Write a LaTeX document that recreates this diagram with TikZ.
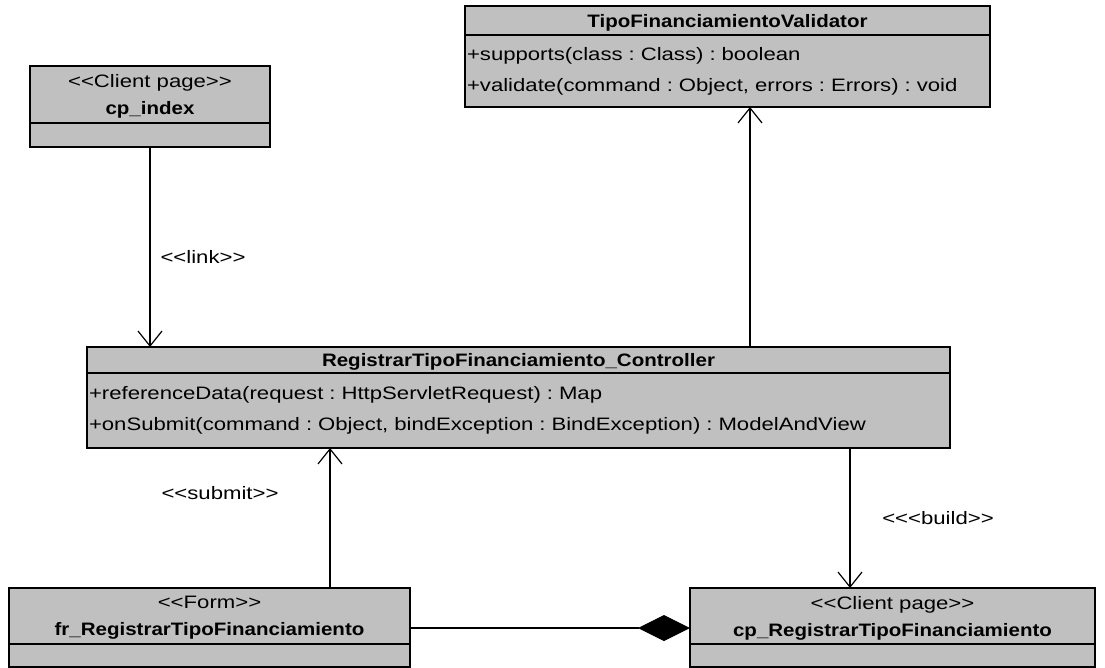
\documentclass[tikz,border=0pt]{standalone}
\usepackage{fontspec}
\setmainfont{Liberation Sans}[Ligatures=TeXOff, FakeStretch=1.23, BoldFeatures={FakeStretch=1.14}]
\frenchspacing
\usetikzlibrary{arrows.meta, positioning, calc}
\definecolor{umlgray}{HTML}{C0C0C0}
\newcommand{\stereo}[1]{\textless\textless #1\textgreater\textgreater}
\tikzset{
	classbox/.style={draw, fill=umlgray, line width=1.3pt, outer sep=0pt, inner sep=0pt, text depth=0pt, anchor=north west, align=center, font=\fontsize{18}{27}\selectfont},
	opsbox/.style={draw, fill=umlgray, line width=1.3pt, outer sep=0pt, inner xsep=2pt, inner ysep=0pt, anchor=north, align=left, font=\fontsize{18}{31}\selectfont},
	dep/.style={draw, line width=1.2pt, -{Straight Barb[length=15pt, width=24pt, line width=1.2pt]}},
	comp/.style={draw, line width=1.2pt, -{Diamond[length=52pt, width=26pt, fill=black]}},
	stlabel/.style={font=\fontsize{18}{18}\selectfont}
}

\begin{document}
\begin{tikzpicture}[x=1pt, y=-1pt]
				  \useasboundingbox (0,0) rectangle (1105,668);
				  \node[classbox, minimum width=240pt, minimum height=57pt] (index) at (30,66) {\stereo{Client page}\\\textbf{cp\_index}};
				  \node[opsbox, minimum width=240pt, minimum height=24pt, below=0pt of index] (index-ops) {};
				  \node[classbox, minimum width=525pt, minimum height=29pt] (val) at (465,6) {\textbf{TipoFinanciamientoValidator}};
				  \node[opsbox, text width=521pt, minimum height=72pt, below=0pt of val] (val-ops) {+supports(class : Class) : boolean\\+validate(command : Object, errors : Errors) : void};
				  \node[classbox, minimum width=863pt, minimum height=26pt] (ctrl) at (87,347) {\textbf{RegistrarTipoFinanciamiento\_Controller}};
				  \node[opsbox, text width=859pt, minimum height=75pt, below=0pt of ctrl] (ctrl-ops) {+referenceData(request : HttpServletRequest) : Map\\+onSubmit(command : Object, bindException : BindException) : ModelAndView};
				  \node[classbox, minimum width=401pt, minimum height=56pt] (form) at (9,588) {\stereo{Form}\\\textbf{fr\_RegistrarTipoFinanciamiento}};
				  \node[opsbox, minimum width=401pt, minimum height=23pt, below=0pt of form] (form-ops) {};
				  \node[classbox, minimum width=405pt, minimum height=56pt] (page) at (690,588) {\stereo{Client page}\\\textbf{cp\_RegistrarTipoFinanciamiento}};
				  \node[opsbox, minimum width=405pt, minimum height=23pt, below=0pt of page] (page-ops) {};
				  \coordinate (valfoot) at ($(val-ops.south west)+(285,0)$);
				  \coordinate (ctrlfoot) at ($(ctrl-ops.south west)+(763,0)$);
				  \coordinate (formtop) at ($(form.north west)+(321,0)$);
				  \draw[dep] (index-ops.south) -- (index-ops.south |- ctrl.north);
				  \draw[dep] (valfoot |- ctrl.north) -- (valfoot);
				  \draw[dep] (formtop) -- (formtop |- ctrl-ops.south);
				  \draw[dep] (ctrlfoot) -- (ctrlfoot |- page.north);
				  \draw[comp] ([yshift=-12pt]form.east) -- ([yshift=-12pt]page.west);
				  \node[stlabel] (link) at (203,257) {\stereo{link}};
				  \node[stlabel] (submit) at (220,493) {\stereo{submit}};
				  \node[stlabel] (build) at (938,518) {\textless\stereo{build}};
				\end{tikzpicture}
\end{document}
